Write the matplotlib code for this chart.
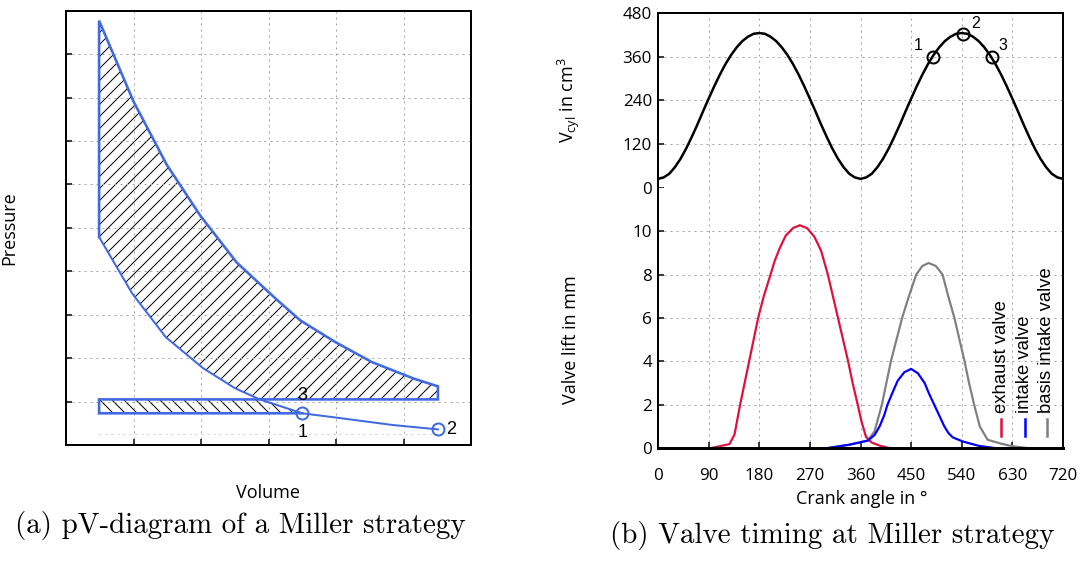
import numpy as np
import matplotlib
matplotlib.use('Agg')
import matplotlib.pyplot as plt

# ── (a) pV diagram, arbitrary units ──────────────────────────────────
upper_v = [0.49, 1.00, 1.49, 1.99, 2.53, 3.12, 3.47, 3.99, 4.53, 5.15, 5.51]
upper_p = [9.77, 7.91, 6.46, 5.28, 4.20, 3.35, 2.87, 2.37, 1.91, 1.53, 1.35]
lower_v = [0.49, 0.98, 1.48, 2.03, 2.50, 2.87, 3.50, 3.96, 4.84, 5.51]
lower_p = [4.79, 3.49, 2.48, 1.77, 1.31, 1.05, 0.73, 0.64, 0.46, 0.36]
v_min, v_max = 0.49, 5.51
p_intake, p_exhaust = 1.05, 0.73
pv_pts_v = [3.50, 5.51]          # state 1, state 2
pv_pts_p = [0.73, 0.36]

# ── (b) cylinder volume and valve lift over crank angle ─────────────
crank = np.arange(0, 721, 10)
v_cyl = [25, 29, 39, 57, 80, 108, 140, 174, 210, 245, 279, 311, 340, 365, 386, 403, 415, 423, 425,
         423, 415, 403, 386, 365, 340, 311, 279, 245, 210, 174, 140, 108, 80, 57, 39, 29, 25,
         29, 39, 57, 80, 108, 140, 174, 210, 245, 279, 311, 340, 365, 386, 403, 415, 423, 425,
         423, 415, 403, 386, 365, 340, 311, 279, 245, 210, 174, 140, 108, 80, 57, 39, 29, 25]
miller_deg = [488, 542, 593]
miller_vol = [360, 422, 360]
miller_lbl = ['1', '2', '3']

exh_deg = [95, 127, 136, 146, 154, 162, 170, 178, 188, 200, 207, 216, 227, 240, 252,
           265, 278, 290, 302, 311, 320, 329, 338, 346, 355, 362, 370, 380, 395, 411]
exh_lift = [0, 0.18, 0.62, 2.0, 3.0, 4.0, 5.0, 6.0, 7.0, 8.0, 8.6, 9.2, 9.8, 10.15, 10.28,
            10.15, 9.75, 9.1, 8.0, 7.0, 6.0, 5.0, 4.0, 3.0, 2.0, 1.2, 0.5, 0.25, 0.1, 0]
int_deg = [302, 340, 373, 385, 394, 402, 408, 416, 426, 438, 450, 462, 474, 482, 491,
           500, 509, 516, 524, 542, 570, 598]
int_lift = [0, 0.15, 0.34, 0.6, 1.0, 1.5, 2.0, 2.5, 3.1, 3.5, 3.65, 3.45, 3.0, 2.5, 2.0,
            1.5, 1.0, 0.7, 0.49, 0.3, 0.1, 0]
base_deg = [302, 340, 373, 385, 398, 406, 414, 424, 434, 446, 459, 470, 481, 494, 506,
            516, 527, 536, 545, 553, 562, 572, 586, 610, 630, 657]
base_lift = [0, 0.15, 0.34, 0.77, 2.0, 3.0, 4.0, 5.0, 6.0, 7.0, 8.0, 8.4, 8.54, 8.4, 8.0,
             7.0, 6.0, 5.0, 4.0, 3.0, 2.0, 1.0, 0.38, 0.2, 0.08, 0]
legend_lbl = ['exhaust valve', 'intake valve', 'basis intake valve']

BLUE_PV = '#4169e1'
GRID = dict(color='#a4a4a4', linestyle=(0, (2, 4)), linewidth=1)

plt.rcParams['font.family'] = ['Open Sans', 'DejaVu Sans']
plt.rcParams['hatch.linewidth'] = 1.0
plt.rcParams['mathtext.fontset'] = 'custom'
plt.rcParams['mathtext.rm'] = 'Open Sans'

W, H = 1088, 565
fig = plt.figure(figsize=(W / 72, H / 72), dpi=72)


def box(x0, y0, x1, y1):
    return [x0 / W, 1 - y1 / H, (x1 - x0) / W, (y1 - y0) / H]


# ── left: pV diagram ────────────────────────────────────────────────
ax = fig.add_axes(box(66, 10.7, 471, 445))
ax.set_xlim(0, 6)
ax.set_ylim(0, 10)
ax.set_xticks(range(1, 6))
ax.set_yticks(range(1, 10))
ax.tick_params(direction='in', length=6, width=1.5, labelbottom=False, labelleft=False)
ax.grid(True, **GRID)
for s in ax.spines.values():
    s.set_linewidth(2)

ax.plot([v_min, v_max], [0.25, 0.25], color='#cfcfcf', linestyle=(0, (2, 4)), lw=1)

hx = upper_v + [v_max] + lower_v[5::-1]
hy = upper_p + [p_intake] + lower_p[5::-1]
ax.fill(hx, hy, facecolor='none', edgecolor='black', hatch='//', linewidth=0)
ax.fill([v_min, lower_v[5], lower_v[6], v_min], [p_intake, p_intake, p_exhaust, p_exhaust],
        facecolor='none', edgecolor='black', hatch='\\\\', linewidth=0)

ox = [v_min] + upper_v + [v_max, v_min, v_min, lower_v[6]]
oy = [lower_p[0]] + upper_p + [p_intake, p_intake, p_exhaust, p_exhaust]
ax.plot(ox, oy, color=BLUE_PV, lw=2.6, solid_joinstyle='miter')
ax.plot(lower_v, lower_p, color=BLUE_PV, lw=2)
ax.plot(pv_pts_v, pv_pts_p, 'o', ms=12, mfc='none', mec=BLUE_PV, mew=2)

lbl_font = dict(family='Liberation Sans', fontsize=18)
ax.text(pv_pts_v[0], p_intake + 0.1, '3', ha='center', va='center', **lbl_font)
ax.text(pv_pts_v[0], pv_pts_p[0] - 0.45, '1', ha='center', va='center', **lbl_font)
ax.text(pv_pts_v[1] + 0.12, pv_pts_p[1], '2', ha='left', va='center', **lbl_font)

ax.set_ylabel('Pressure', fontsize=18)
ax.yaxis.set_label_coords(-0.118, 0.5)
ax.set_xlabel('Volume', fontsize=18)
ax.xaxis.set_label_coords(0.5, -0.09)

# ── right top: cylinder volume ──────────────────────────────────────
axv = fig.add_axes(box(658, 13, 1063, 188))
axv.plot(crank, v_cyl, color='black', lw=2.5)
axv.plot(miller_deg, miller_vol, 'o', ms=12, mfc='none', mec='black', mew=2)
lbl_off = [(-26, 32), (22, 28), (20, 32)]
for d, v, t, (dx, dv) in zip(miller_deg, miller_vol, miller_lbl, lbl_off):
    axv.text(d + dx, v + dv, t, ha='center', va='center', family='Liberation Sans', fontsize=16)
axv.set_xlim(0, 720)
axv.set_ylim(0, 480)
axv.set_xticks(np.arange(0, 721, 90))
axv.set_yticks(np.arange(0, 481, 120))
axv.grid(True, **GRID)
axv.tick_params(axis='x', length=0, labelbottom=False)
axv.tick_params(axis='y', direction='in', length=6, width=1.5, pad=6, labelsize=17)
axv.spines['bottom'].set_visible(False)
for k in ('top', 'left', 'right'):
    axv.spines[k].set_linewidth(2)
axv.set_ylabel(r'V$_{\mathregular{cyl}}$ in cm$^{\mathregular{3}}$', fontsize=18)
axv.yaxis.set_label_coords(-0.188, 0.5)

# ── right bottom: valve lift ────────────────────────────────────────
axl = fig.add_axes(box(658, 188, 1063, 448))
l_base, = axl.plot(base_deg, base_lift, color='#808080', lw=2.2)
l_exh, = axl.plot(exh_deg, exh_lift, color='#e0103c', lw=2.2)
l_int, = axl.plot(int_deg, int_lift, color='#0000ff', lw=2.2)
axl.set_xlim(0, 720)
axl.set_ylim(0, 12)
axl.set_xticks(np.arange(0, 721, 90))
axl.set_yticks(np.arange(0, 11, 2))
axl.grid(True, **GRID)
axl.tick_params(direction='in', length=6, width=1.5, labelsize=17)
axl.tick_params(axis='x', pad=20)
axl.tick_params(axis='y', pad=6)
axl.spines['top'].set_visible(False)
for k in ('left', 'right'):
    axl.spines[k].set_linewidth(2)
axl.spines['bottom'].set_linewidth(3)
axl.set_ylabel('Valve lift in mm', fontsize=18)
axl.yaxis.set_label_coords(-0.193, 0.415)
axl.set_xlabel('Crank angle in °', fontsize=18)
axl.xaxis.set_label_coords(0.504, -0.196)
axl.xaxis.label.set_va('center')

# vertical legend
for xf, line, text in zip([0.848, 0.906, 0.960], [l_exh, l_int, l_base], legend_lbl):
    axl.plot([xf, xf], [0.046, 0.112], transform=axl.transAxes, color=line.get_color(),
             lw=2.5, clip_on=False)
    axl.text(xf, 0.135, text, transform=axl.transAxes, rotation=90, ha='center', va='bottom',
             family='Liberation Sans', fontsize=18.5)

# captions
cap = dict(family='cmr10', fontsize=29, ha='center', va='baseline')
fig.text(240 / W, 1 - 533 / H, '(a) pV-diagram of a Miller strategy', **cap)
fig.text(832 / W, 1 - 543 / H, '(b) Valve timing at Miller strategy', **cap)

fig.savefig('out.png', dpi=72)
